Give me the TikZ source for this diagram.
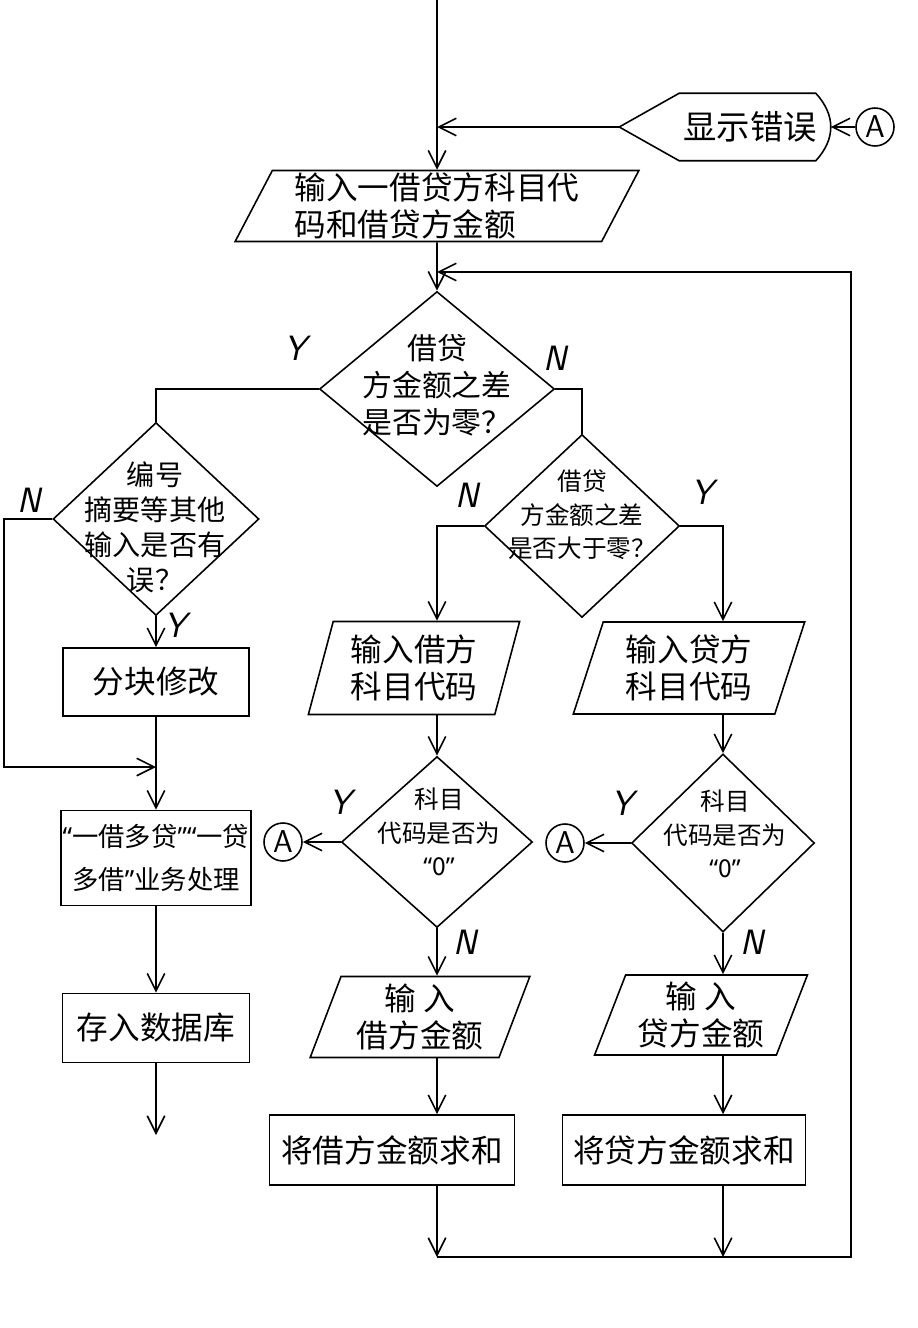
\documentclass[tikz,border=0pt]{standalone}
\usepackage{fontspec}
\newfontfamily\cjk{Noto Sans CJK SC}
\newfontfamily\latn{Noto Sans}
\newcommand\qL{{\latn “}}
\newcommand\qR{{\latn ”}}
\usetikzlibrary{shapes.geometric,arrows.meta}
\tikzset{>={Straight Barb[length=3.5mm,width=3.5mm]}}
\tikzset{
  hz/.style={font=\cjk\fontsize{18}{21}\selectfont,align=center},
  hzd/.style={font=\cjk\fontsize{16}{20}\selectfont,align=center},
  hzs/.style={font=\cjk\fontsize{14}{19}\selectfont,align=center},
  box/.style={draw,inner sep=1pt},
  io/.style={draw,trapezium,trapezium stretches=true,inner sep=1pt},
  dec/.style={draw,diamond,inner sep=0pt},
  conn/.style={draw,circle,minimum size=0.76cm,inner sep=0pt,font=\sffamily\fontsize{18}{18}\selectfont},
  yn/.style={font=\sffamily\itshape\fontsize{20}{20}\selectfont},
}

\begin{document}
\begin{tikzpicture}[x=0.02cm,y=-0.02cm,line width=0.9pt]
  \useasboundingbox (0,0) rectangle (917,1328);
  \coordinate (top) at (437,0);
  \node[hz,font=\cjk\fontsize{19}{21}\selectfont,minimum width=3.2cm,minimum height=1.32cm] (err) at (750,127) {显示错误};
  \draw ([xshift=-1cm]err.west) coordinate (errtip) -- ([xshift=0.2cm]err.north west) -- ([xshift=-0.3cm]err.north east) .. controls +(20,22) and +(20,-22) .. ([xshift=-0.3cm]err.south east) -- ([xshift=0.2cm]err.south west) -- cycle;
  \node[conn] (a0) at (875,127) {A};
  \draw[->] (a0) -- (err);
  \draw[->] (errtip) -- (errtip -| top);

  \node[io,hz,align=left,minimum width=8.1cm,minimum height=1.42cm,trapezium left angle=65,trapezium right angle=115] (in1) at (437,206) {输入一借贷方科目代\\码和借贷方金额};
  \draw[->] (top) -- (in1);
  \coordinate (j1) at (437,272);

  \node[dec,minimum width=4.7cm,minimum height=3.9cm] (d1) at (437,389) {};
  \node[hzd,font=\cjk\fontsize{17}{21}\selectfont] (d1t) at (437,385) {借贷\\方金额之差\\是否为零？};
  \draw[->] (in1) -- (d1);

  \node[dec,minimum width=4.12cm,minimum height=3.86cm] (d2) at (156,519) {};
  \node[hzd] (d2t) at (155,527) {编号\\摘要等其他\\输入是否有\\误？};
  \node[dec,minimum width=3.9cm,minimum height=3.66cm] (d3) at (582,526) {};
  \node[hzs] (d3t) at (582,515) {借贷\\方金额之差\\是否大于零？};
  \draw (d1.west) -| (d2.north);
  \draw (d1.east) -| (d3.north);

  \node[io,hz,minimum width=4.24cm,minimum height=1.86cm,trapezium left angle=74,trapezium right angle=106] (p4) at (414,668) {输入借方\\科目代码};
  \node[io,hz,minimum width=4.64cm,minimum height=1.84cm,trapezium left angle=72,trapezium right angle=108] (p5) at (689,668) {输入贷方\\科目代码};

  \node[dec,minimum width=3.82cm,minimum height=3.42cm] (d4) at (437,842) {};
  \node[hzs] (d4t) at (439,832) {科目\\代码是否为\\\qL 0\qR};
  \node[dec,minimum width=3.66cm,minimum height=3.56cm] (d5) at (723,843) {};
  \node[hzs] (d5t) at (725,834) {科目\\代码是否为\\\qL 0\qR};
  \draw[->] (d3.west) -| (d4 |- p4.north);
  \draw[->] (d3.east) -| (d5 |- p5.north);
  \draw[->] (d4 |- p4.south) -- (d4);
  \draw[->] (d5 |- p5.south) -- (d5);

  \node[conn] (a1) at (283,842) {A};
  \node[conn] (a2) at (565,843) {A};
  \draw[->] (d4.west) -- (a1);
  \draw[->] (d5.west) -- (a2);

  \node[io,hz,minimum width=4.4cm,minimum height=1.62cm,trapezium left angle=70,trapezium right angle=110] (p6) at (420,1017) {输 入\\借方金额};
  \node[io,hz,minimum width=4.26cm,minimum height=1.6cm,trapezium left angle=69,trapezium right angle=111] (p7) at (701,1015) {输 入\\贷方金额};
  \draw[->] (d4) -- (d4 |- p6.north);
  \draw[->] (d5) -- (d5 |- p7.north);

  \node[box,hz,minimum width=4.9cm,minimum height=1.4cm] (sumL) at (392,1150) {将借方金额求和};
  \node[box,hz,minimum width=4.86cm,minimum height=1.4cm] (sumR) at (684,1150) {将贷方金额求和};
  \draw[->] (d4 |- p6.south) -- (d4 |- sumL.north);
  \draw[->] (d5 |- p7.south) -- (d5 |- sumR.north);
  \coordinate (jL) at (437,1257);
  \coordinate (jR) at (723,1257);
  \coordinate (jE) at (851,1257);
  \draw[->] (d4 |- sumL.south) -- (jL);
  \draw[->] (d5 |- sumR.south) -- (jR);
  \draw[->] (jL) -- (jE) |- (j1);

  \node[box,hz,minimum width=3.72cm,minimum height=1.36cm] (fix) at (156,682) {分块修改};
  \node[box,hz,font=\cjk\fontsize{15}{24}\selectfont,minimum width=3.74cm,minimum height=1.9cm] (biz) at (156,858) {\qL 一借多贷\qR\qL 一贷\\多借\qR 业务处理};
  \node[box,hz,minimum width=3.74cm,minimum height=1.38cm] (db) at (156,1028) {存入数据库};
  \coordinate (nL) at (4,767);
  \coordinate (m1) at (156,767);
  \coordinate (dbout) at (156,1135);
  \draw[->] (d2) -- (fix);
  \draw[->] (d2.west) -| (nL) -- (m1);
  \draw[->] (fix) -- (biz);
  \draw[->] (biz) -- (db);
  \draw[->] (db) -- (dbout);

  \node[yn] (y1) at (295,348) {Y};
  \node[yn] (n1) at (555,358) {N};
  \node[yn] (n2) at (29,500) {N};
  \node[yn] (y2) at (175,625) {Y};
  \node[yn] (n3) at (467,495) {N};
  \node[yn] (y3) at (702,492) {Y};
  \node[yn] (y4) at (340,802) {Y};
  \node[yn] (n4) at (465,942) {N};
  \node[yn] (y5) at (622,803) {Y};
  \node[yn] (n5) at (752,942) {N};
\end{tikzpicture}
\end{document}
